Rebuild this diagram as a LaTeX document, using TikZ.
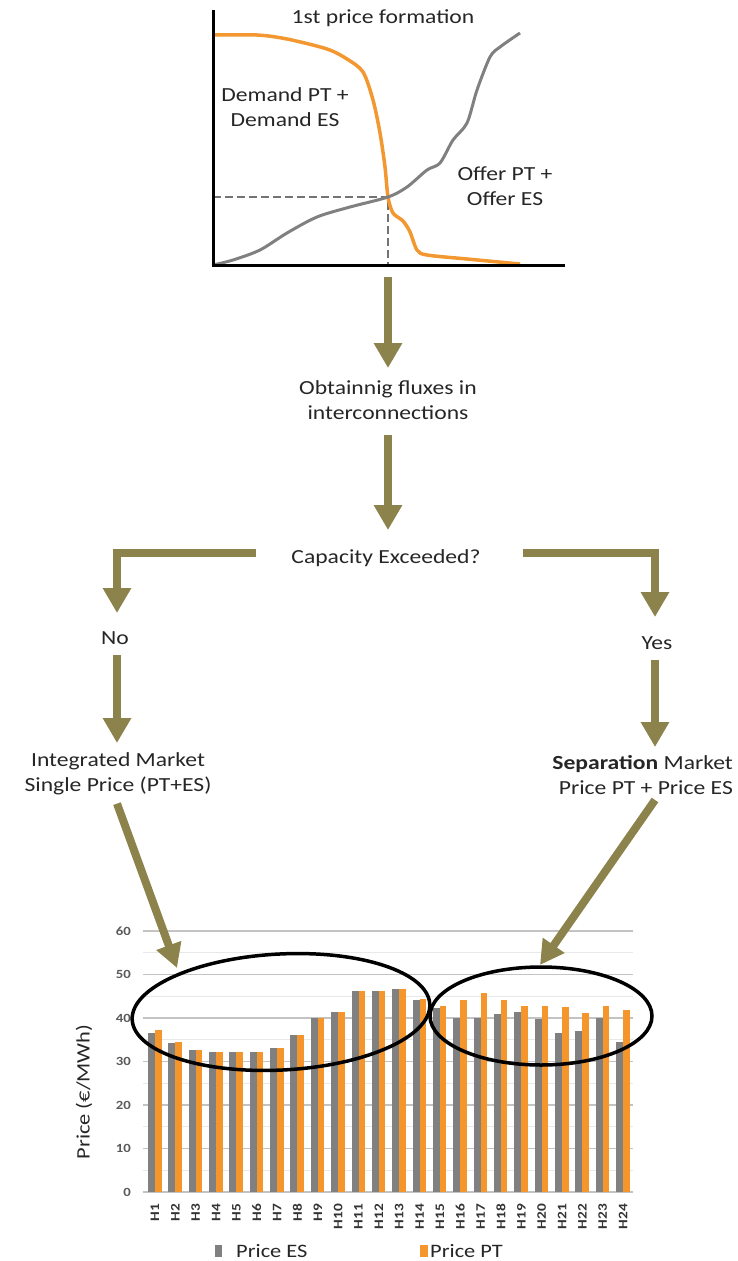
\documentclass[tikz,border=0pt]{standalone}
\usepackage{fontspec}
\setmainfont{Carlito}[FakeStretch=1.18]
\usetikzlibrary{arrows.meta}
\definecolor{arrowolive}{RGB}{140,130,75}
\definecolor{esgray}{RGB}{128,128,128}
\definecolor{ptorange}{RGB}{245,150,45}
\definecolor{curveorange}{RGB}{243,152,48}
\definecolor{gridmajor}{RGB}{195,195,195}
\definecolor{gridminor}{RGB}{232,232,232}
\definecolor{ticktext}{RGB}{90,90,90}
\begin{document}
\begin{tikzpicture}[x=1pt,y=-1pt,
  txt/.style={font=\fontsize{20}{25.5}\selectfont, text=black!85, align=center, inner sep=0pt},
  bigarrow/.style={color=arrowolive, line width=8.5pt, line join=miter, -{Triangle[length=25pt,width=27pt]}},
  diagarrow/.style={color=arrowolive, line width=8pt, -{Triangle[length=24pt,width=25pt]}},
  axisline/.style={line width=3pt, black},
  ticklab/.style={font=\fontsize{12.5}{13}\selectfont\bfseries, text=ticktext, anchor=east, inner sep=0pt},
  hlab/.style={font=\fontsize{13}{13}\selectfont\bfseries, text=black!80, rotate=90, anchor=east, inner sep=0pt},
  legtxt/.style={font=\fontsize{19}{20}\selectfont, text=black!85, anchor=west, inner sep=0pt},
  ring/.style={draw=black, line width=3.5pt}
]
\useasboundingbox (0,0) rectangle (738,1261);

% ---------------- top supply/demand chart ----------------
\node[txt] (title) at (383,18) {1st price formation};
\draw[dashed, dash pattern=on 8pt off 4pt, line width=2pt, black!55] (213,197) -- (388,197) -- (388,265);
\draw[curveorange, line width=3.5pt, line join=round] plot[smooth, tension=0.5] coordinates {
  (213,35) (257,35) (287,39) (327,49) (347,59) (363,72) (373,100) (380,133) (385,167)
  (388,197) (393,213) (403,221) (410,232) (417,250) (427,255) (467,259) (520,264)};
\draw[esgray, line width=3pt, line join=round] plot[smooth, tension=0.5] coordinates {
  (213,265) (233,260) (260,250) (287,233) (317,217) (350,207) (388,197) (407,187)
  (427,170) (440,163) (453,140) (467,123) (477,90) (490,57) (500,47) (520,33)};
\draw[axisline] (213,10) -- (213,266.5);
\draw[axisline] (211.5,265) -- (565,265);
\node[txt] (demand) at (285,107) {Demand PT +\\Demand ES};
\node[txt] (offer) at (505,186) {Offer PT +\\Offer ES};
\coordinate (chartbottom) at (388,277);

% ---------------- flow ----------------
\node[txt] (flux) at (388,400) {Obtainnig fluxes in\\interconnections};
\node[txt] (cap) at (386,558) {Capacity Exceeded?};
\node[txt] (no) at (115,638) {No};
\node[txt] (yes) at (657,643) {Yes};
\node[txt] (integ) at (118,774) {Integrated Market\\Single Price (PT+ES)};
\node[txt, align=right, anchor=east] (sep) at (733,775) {\textbf{Separation} Market\\Price PT + Price ES};

\draw[bigarrow] (chartbottom) -- (388,368);
\draw[bigarrow] (flux.south |- 0,435) -- (388,530);
\draw[bigarrow] (256,553) -- (117,553) -- (117,613);
\draw[bigarrow] (523,553) -- (655,553) -- (655,617);
\draw[bigarrow] (117,655) -- (117,743);
\draw[bigarrow] (655,660) -- (655,747);

% ---------------- bar chart ----------------
\foreach \v in {5,15,25,35,45,55} {
  \draw[gridminor, line width=1pt] (143,{1192-\v*4.35}) -- (633,{1192-\v*4.35});
}
\foreach \v in {0,10,20,30,40,50,60} {
  \draw[gridmajor, line width=1.8pt] (143,{1192-\v*4.35}) -- (633,{1192-\v*4.35});
  \node[ticklab] (t\v) at (131,{1192-\v*4.35}) {\v};
}
\foreach \i/\es/\pt in {1/36.5/37.2, 2/34.3/34.6, 3/32.6/32.6, 4/32.3/32.3, 5/32.3/32.3,
  6/32.3/32.3, 7/33/33, 8/36/36, 9/40.1/40.1, 10/41.4/41.4, 11/46.3/46.3, 12/46.3/46.3,
  13/46.6/46.6, 14/44.1/44.3, 15/42.3/42.8, 16/40/44.1, 17/40/45.7, 18/40.9/44.1,
  19/41.4/42.8, 20/39.8/42.8, 21/36.5/42.5, 22/37/41.1, 23/40/42.8, 24/34.5/41.8} {
  \pgfmathsetmacro\c{155+(\i-1)*20.35}
  \fill[esgray] ({\c-7},1192) rectangle (\c,{1192-\es*4.35});
  \fill[ptorange] (\c,1192) rectangle ({\c+6.5},{1192-\pt*4.35});
  \node[hlab] (h\i) at (\c,1204) {H\i};
}
\node[font=\fontsize{19}{20}\selectfont, text=black!85, rotate=90, inner sep=0pt] (ylab) at (84,1092) {Price (€/MWh)};

% legend
\fill[esgray] (215,1245) rectangle (222,1257);
\node[legtxt] (leges) at (236,1251) {Price ES};
\fill[ptorange] (420,1245) rectangle (428,1257);
\node[legtxt] (legpt) at (430,1251) {Price PT};

% ellipses
\draw[ring] (281,1012) ellipse [x radius=149, y radius=58, rotate=3];
\draw[ring] (541,1016) ellipse [x radius=111, y radius=49];

% diagonal arrows
\coordinate (lefttip) at (177,968);
\coordinate (righttip) at (540,965);
\draw[diagarrow] (integ.south -| 117,0) ++(0,8) -- (lefttip);
\draw[diagarrow] (655,800) -- (righttip);
\end{tikzpicture}
\end{document}
